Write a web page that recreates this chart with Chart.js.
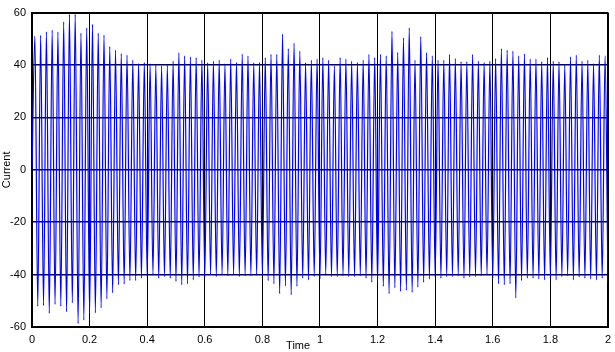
<!DOCTYPE html>
<html>
<head>
<meta charset="utf-8">
<script src="https://cdn.jsdelivr.net/npm/chart.js@4/dist/chart.umd.min.js"></script>
<style>
  html, body { margin: 0; padding: 0; background: #fff; overflow: hidden; }
  #wrap { position: relative; width: 617px; height: 352px; }
</style>
</head>
<body>
<div id="wrap"><canvas id="current-chart"></canvas></div>
<script>
// positive and negative peak of every 50 Hz cycle
const posPeaks = [
  51.0, 51.3, 52.7, 53.3, 52.7, 56.5, 59.3, 59.3, 52.2, 54.2,
  55.5, 52.2, 51.4, 47.0, 45.7, 44.4, 43.8, 41.9, 40.6, 41.0,
  40.5, 40.0, 39.7, 40.0, 41.5, 44.7, 43.5, 43.1, 42.8, 41.9,
  40.9, 41.5, 41.9, 40.5, 42.3, 41.0, 44.2, 43.5, 40.9, 41.0,
  42.8, 44.1, 44.1, 51.8, 46.3, 48.4, 45.3, 40.9, 41.9, 42.3,
  42.8, 41.9, 39.7, 42.8, 42.3, 41.5, 41.0, 41.9, 44.1, 42.8,
  44.1, 43.5, 52.9, 44.8, 50.4, 54.2, 41.9, 50.9, 44.7, 43.5,
  41.9, 41.9, 44.1, 42.5, 41.3, 41.3, 44.1, 41.5, 41.0, 41.5,
  42.5, 46.3, 45.7, 45.3, 43.5, 44.3, 42.3, 42.3, 41.3, 42.8,
  41.5, 41.3, 40.0, 43.1, 43.8, 41.5, 41.9, 40.6, 43.8, 43.5
];
const negPeaks = [
  -52.1, -51.8, -54.8, -51.4, -52.1, -54.2, -50.8, -58.7, -57.4, -55.2,
  -54.6, -52.7, -49.3, -47.0, -43.9, -43.6, -42.3, -42.3, -41.4, -40.8,
  -40.1, -41.4, -40.8, -41.4, -42.6, -43.9, -43.5, -42.0, -41.0, -41.0,
  -40.1, -40.8, -40.1, -40.5, -40.1, -40.8, -40.5, -40.5, -40.1, -40.1,
  -42.3, -43.5, -47.3, -44.3, -47.7, -44.5, -41.4, -42.0, -40.8, -41.7,
  -40.1, -40.8, -40.8, -40.5, -40.8, -40.8, -40.5, -41.4, -43.0, -43.5,
  -44.5, -47.3, -45.1, -46.4, -46.0, -46.8, -44.8, -43.0, -41.7, -41.0,
  -41.4, -40.8, -40.8, -40.5, -41.4, -41.0, -40.8, -40.5, -40.1, -41.4,
  -43.5, -43.9, -43.5, -48.9, -42.3, -41.4, -41.4, -41.7, -42.0, -41.4,
  -42.0, -40.8, -40.5, -42.0, -41.0, -41.4, -41.7, -42.0, -41.4, -43.2
];
const period = 0.02;
const xTickLabels = ['0', '0.2', '0.4', '0.6', '0.8', '1', '1.2', '1.4', '1.6', '1.8', '2'];
const yTickLabels = ['-60', '-40', '-20', '0', '20', '40', '60'];

const points = [{ x: 0, y: 0 }];
posPeaks.forEach((p, k) => {
  points.push({ x: period * k + period / 2, y: p });
  points.push({ x: period * (k + 1), y: negPeaks[k] });
});

// x axis title sits left of centre, between 0.8 and 1
const timeLabel = {
  id: 'timeLabel',
  afterDraw(chart) {
    const { ctx, chartArea, scales } = chart;
    ctx.save();
    ctx.font = "11px 'Liberation Sans Narrow', 'Liberation Sans', Arial, sans-serif";
    ctx.fillStyle = '#000';
    ctx.textAlign = 'center';
    ctx.textBaseline = 'middle';
    ctx.fillText('Time', scales.x.getPixelForValue(0.924), chartArea.bottom + 19);
    ctx.restore();
  }
};

const edgeWidth = (c) => (c.index === 0 || c.index === c.scale.ticks.length - 1) ? 2 : 1;

new Chart(document.getElementById('current-chart'), {
  type: 'line',
  data: {
    datasets: [{
      label: 'Current',
      data: points,
      borderColor: '#0000ff',
      borderWidth: 1.2,
      pointRadius: 0,
      cubicInterpolationMode: 'monotone',
      fill: false
    }]
  },
  options: {
    responsive: true,
    maintainAspectRatio: false,
    animation: false,
    parsing: false,
    layout: { padding: { top: 11, right: 0, left: 0, bottom: 0 } },
    plugins: { legend: { display: false }, tooltip: { enabled: false } },
    scales: {
      x: {
        type: 'linear',
        min: 0,
        max: 2,
        z: 1,
        afterFit: (s) => { s.height = 25; },
        ticks: {
          stepSize: 0.2,
          padding: 6,
          color: '#000',
          maxRotation: 0,
          autoSkip: false,
          font: { family: "'Liberation Sans Narrow', 'Liberation Sans', Arial, sans-serif", size: 11 },
          callback: (v, i) => xTickLabels[i]
        },
        grid: { color: '#000', lineWidth: edgeWidth, drawTicks: false },
        border: { color: '#000', width: 2 }
      },
      y: {
        min: -60,
        max: 60,
        z: 1,
        afterFit: (s) => { s.width = 32; },
        ticks: {
          stepSize: 20,
          padding: 6,
          color: '#000',
          font: { family: "'Liberation Sans Narrow', 'Liberation Sans', Arial, sans-serif", size: 11 },
          callback: (v, i) => yTickLabels[i]
        },
        grid: { color: (c) => (c.index === 0 || c.index === 6) ? '#000' : '#000050', lineWidth: (c) => (c.index === 0 || c.index === 6) ? 2 : 1.6, drawTicks: false },
        border: { color: '#000', width: 2 },
        title: {
          display: true,
          text: 'Current',
          color: '#000',
          padding: { top: 0, bottom: 4 },
          font: { family: "'Liberation Sans', Arial, sans-serif", size: 11 }
        }
      }
    }
  },
  plugins: [timeLabel]
});
</script>
</body>
</html>
